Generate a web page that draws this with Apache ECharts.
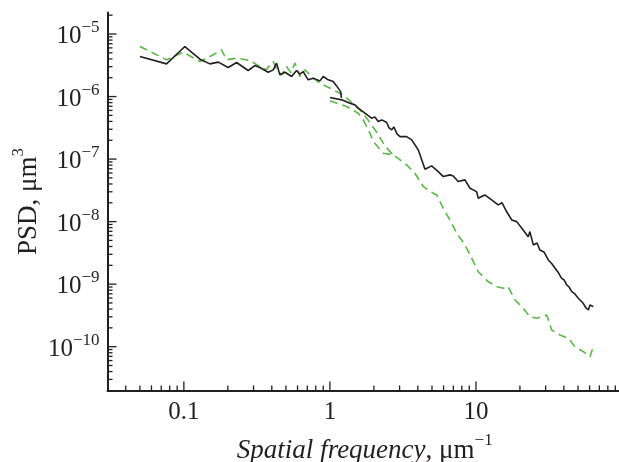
<!DOCTYPE html>
<html lang="en">
<head>
    <meta charset="UTF-8">
    <title>PSD vs spatial frequency</title>
    <script src="https://cdn.jsdelivr.net/npm/echarts@6.0.0/dist/echarts.min.js"></script>
    <style>
        html, body { margin: 0; padding: 0; background: #fff; }
        #chart { width: 619px; height: 462px; }
    </style>
</head>
<body>
    <div id="chart"></div>

    <script>
        // black curve, low-frequency part
        const blackLowFreq = [0.050, 0.0761, 0.1016, 0.1288, 0.1507, 0.172, 0.201, 0.2296, 0.2757, 0.3064, 0.3316, 0.378, 0.409, 0.431, 0.4545, 0.492, 0.547, 0.591, 0.623, 0.656, 0.710, 0.769, 0.854, 0.900, 0.973, 1.053, 1.111, 1.184, 1.2];
        const blackLowPsd = [4.37e-6, 3.33e-6, 6.31e-6, 3.96e-6, 3.33e-6, 3.55e-6, 2.91e-6, 3.50e-6, 2.61e-6, 3.13e-6, 2.91e-6, 2.45e-6, 2.67e-6, 3.42e-6, 2.22e-6, 2.45e-6, 2.09e-6, 2.61e-6, 2.28e-6, 2.51e-6, 1.85e-6, 1.97e-6, 1.78e-6, 2.09e-6, 1.85e-6, 1.74e-6, 1.48e-6, 1.20e-6, 9.5e-7];

        // black curve, high-frequency part
        const blackHighFreq = [1.0, 1.203, 1.371, 1.483, 1.563, 1.737, 1.93, 2.03, 2.14, 2.27, 2.45, 2.54, 2.65, 2.74, 2.88, 3.02, 3.35, 3.63, 4.03, 4.48, 4.97, 5.52, 5.97, 6.64, 6.99, 7.56, 8.41, 9.10, 10.1, 10.37, 11.5, 12.8, 14.2, 15.1, 16.2, 17.6, 19.0, 20.6, 22.8, 23.4, 24.7, 26.2, 27.4, 29.2, 31.3, 33.2, 34.8, 36.4, 38.6, 40.1, 41.8, 43.4, 45.3, 47.6, 50.2, 52.4, 54.3, 56.7, 58.8, 60.4, 63.6];
        const blackHighPsd = [9.64e-7, 8.85e-7, 7.84e-7, 7.36e-7, 6.52e-7, 5.42e-7, 4.51e-7, 4.73e-7, 3.98e-7, 4.23e-7, 3.84e-7, 3.16e-7, 2.93e-7, 3.27e-7, 2.53e-7, 2.29e-7, 2.29e-7, 2.03e-7, 1.40e-7, 6.89e-8, 7.78e-8, 6.31e-8, 5.25e-8, 5.59e-8, 5.38e-8, 4.37e-8, 4.65e-8, 3.42e-8, 3.02e-8, 2.37e-8, 2.67e-8, 2.22e-8, 1.85e-8, 2.0e-8, 1.45e-8, 1.06e-8, 1.0e-8, 7.84e-9, 5.75e-9, 6.92e-9, 4.24e-9, 4.56e-9, 3.52e-9, 3.27e-9, 2.44e-9, 2.10e-9, 1.80e-9, 1.57e-9, 1.24e-9, 1.17e-9, 9.71e-10, 9.0e-10, 7.59e-10, 6.97e-10, 5.94e-10, 5.38e-10, 4.94e-10, 4.16e-10, 3.86e-10, 4.65e-10, 4.37e-10];

        // green dashed curve, low-frequency part
        const greenLowFreq = [0.050, 0.0761, 0.0989, 0.1288, 0.1588, 0.181, 0.196, 0.2296, 0.283, 0.3316, 0.365, 0.409, 0.434, 0.467, 0.505, 0.541, 0.576, 0.623, 0.674, 0.769, 0.854, 0.949, 1.053, 1.171, 1.301, 1.415, 1.605, 1.82, 2.10, 2.38, 2.70];
        const greenLowPsd = [6.31e-6, 3.87e-6, 5.13e-6, 3.63e-6, 4.65e-6, 5.58e-6, 3.87e-6, 4.11e-6, 3.77e-6, 3.02e-6, 2.67e-6, 3.63e-6, 2.67e-6, 2.22e-6, 3.02e-6, 2.39e-6, 3.42e-6, 2.09e-6, 2.67e-6, 1.97e-6, 1.64e-6, 1.45e-6, 1.28e-6, 1.13e-6, 9.53e-7, 7.92e-7, 6.12e-7, 4.24e-7, 2.63e-7, 1.63e-7, 1.17e-7];

        // green dashed curve, high-frequency part
        const greenHighFreq = [1.0, 1.301, 1.563, 1.69, 1.88, 1.98, 2.32, 2.72, 3.02, 3.35, 3.82, 4.36, 5.10, 5.38, 5.97, 6.64, 7.38, 8.41, 9.34, 10.37, 12.1, 13.9, 15.4, 16.6, 18.5, 21.1, 23.4, 26.1, 30.5, 33.0, 37.6, 42.9, 47.6, 54.3, 60.4, 63.0];
        const greenHighPsd = [8.53e-7, 6.92e-7, 5.42e-7, 4.24e-7, 2.60e-7, 1.91e-7, 1.24e-7, 1.17e-7, 9.71e-8, 8.07e-8, 5.94e-8, 3.63e-8, 2.85e-8, 2.67e-8, 1.64e-8, 1.06e-8, 6.52e-9, 4.24e-9, 2.60e-9, 1.58e-9, 1.10e-9, 9.12e-10, 8.59e-10, 9.12e-10, 5.58e-10, 4.11e-10, 3.02e-10, 2.85e-10, 3.21e-10, 1.85e-10, 1.54e-10, 1.36e-10, 1.0e-10, 8.32e-11, 6.92e-11, 9.42e-11];

        // axis ranges and decades for the log ticks
        const X_MIN = 0.03, X_MAX = 100;
        const Y_MIN = 2e-11, Y_MAX = 2.2e-5;
        const xDecades = [0.01, 0.1, 1, 10];
        const yDecades = [1e-11, 1e-10, 1e-9, 1e-8, 1e-7, 1e-6, 1e-5];

        const BLACK = '#231f20';
        const GREEN = '#5ab946';
        const FONT = 'Liberation Serif';

        function pairs(xs, ys) {
            return xs.map((x, i) => [x, ys[i]]);
        }

        // 1..9 times each decade, inside the axis range; flag 1 = major tick
        function logTicks(decades, lo, hi) {
            const out = [];
            decades.forEach(d => {
                for (let k = 1; k <= 9; k++) {
                    const v = Number((k * d).toPrecision(3));
                    if (v > lo && v < hi) out.push([v, k === 1 ? 1 : 0]);
                }
            });
            return out;
        }

        function curve(xs, ys, color, dashed) {
            return {
                type: 'line',
                data: pairs(xs, ys),
                showSymbol: false,
                symbol: 'none',
                silent: true,
                lineStyle: { color: color, width: 1.6, type: dashed ? [8, 5] : 'solid' },
                z: dashed ? 2 : 3
            };
        }

        // inward ticks, placed through the axes' own scales
        const xTickSeries = {
            type: 'custom',
            silent: true,
            z: 5,
            data: logTicks(xDecades, X_MIN, X_MAX).map(t => [t[0], Y_MIN, t[1]]),
            renderItem: function (params, api) {
                const p = api.coord([api.value(0), api.value(1)]);
                const len = api.value(2) ? 9 : 5;
                return {
                    type: 'line',
                    shape: { x1: p[0], y1: p[1], x2: p[0], y2: p[1] - len },
                    style: { stroke: BLACK, lineWidth: 1.3 }
                };
            }
        };

        const yTickSeries = {
            type: 'custom',
            silent: true,
            z: 5,
            data: logTicks(yDecades, Y_MIN, Y_MAX).map(t => [X_MIN, t[0], t[1]]),
            renderItem: function (params, api) {
                const p = api.coord([api.value(0), api.value(1)]);
                const len = api.value(2) ? 9 : 5;
                return {
                    type: 'line',
                    shape: { x1: p[0], y1: p[1], x2: p[0] + len, y2: p[1] },
                    style: { stroke: BLACK, lineWidth: 1.3 }
                };
            }
        };

        const chart = echarts.init(document.getElementById('chart'));
        chart.setOption({
            animation: false,
            backgroundColor: '#fff',
            grid: { left: 107.5, right: -3, top: 12.6, bottom: 71.6, outerBoundsMode: 'none' },
            xAxis: {
                type: 'log',
                logBase: 10,
                min: X_MIN,
                max: X_MAX,
                name: '{i|Spatial frequency}{n|, μm}{s|\u22121}',
                nameLocation: 'middle',
                nameGap: 42,
                nameMoveOverlap: false,
                nameTextStyle: {
                    rich: {
                        i: { fontFamily: FONT, fontSize: 27, fontStyle: 'italic', color: BLACK, lineHeight: 32, verticalAlign: 'bottom' },
                        n: { fontFamily: FONT, fontSize: 27, color: BLACK, lineHeight: 32, verticalAlign: 'bottom' },
                        s: { fontFamily: FONT, fontSize: 17, color: BLACK, lineHeight: 18, verticalAlign: 'top' }
                    }
                },
                axisLine: { lineStyle: { color: BLACK, width: 2 } },
                axisTick: { show: false },
                minorTick: { show: false },
                splitLine: { show: false },
                axisLabel: {
                    showMinLabel: false,
                    showMaxLabel: false,
                    margin: 10,
                    fontFamily: FONT,
                    fontSize: 25,
                    color: BLACK,
                    formatter: v => String(Number(v.toPrecision(3)))
                }
            },
            yAxis: {
                type: 'log',
                logBase: 10,
                min: Y_MIN,
                max: Y_MAX,
                name: '{n|PSD, μm}{s|3}',
                nameLocation: 'middle',
                nameGap: 65,
                nameMoveOverlap: false,
                nameTextStyle: {
                    rich: {
                        n: { fontFamily: FONT, fontSize: 27, color: BLACK, lineHeight: 32, verticalAlign: 'bottom' },
                        s: { fontFamily: FONT, fontSize: 17, color: BLACK, lineHeight: 18, verticalAlign: 'top' }
                    }
                },
                axisLine: { lineStyle: { color: BLACK, width: 2 } },
                axisTick: { show: false },
                minorTick: { show: false },
                splitLine: { show: false },
                axisLabel: {
                    showMinLabel: false,
                    showMaxLabel: false,
                    margin: 8,
                    fontFamily: FONT,
                    fontSize: 25,
                    color: BLACK,
                    formatter: v => '{b|10}{s|\u2212' + (-Math.round(Math.log10(v))) + '}',
                    rich: {
                        b: { fontFamily: FONT, fontSize: 25, color: BLACK, lineHeight: 30, verticalAlign: 'bottom' },
                        s: { fontFamily: FONT, fontSize: 17, color: BLACK, lineHeight: 18, verticalAlign: 'top' }
                    }
                }
            },
            series: [
                curve(greenLowFreq, greenLowPsd, GREEN, true),
                curve(greenHighFreq, greenHighPsd, GREEN, true),
                curve(blackLowFreq, blackLowPsd, BLACK, false),
                curve(blackHighFreq, blackHighPsd, BLACK, false),
                xTickSeries,
                yTickSeries
            ]
        });
    </script>
</body>
</html>
